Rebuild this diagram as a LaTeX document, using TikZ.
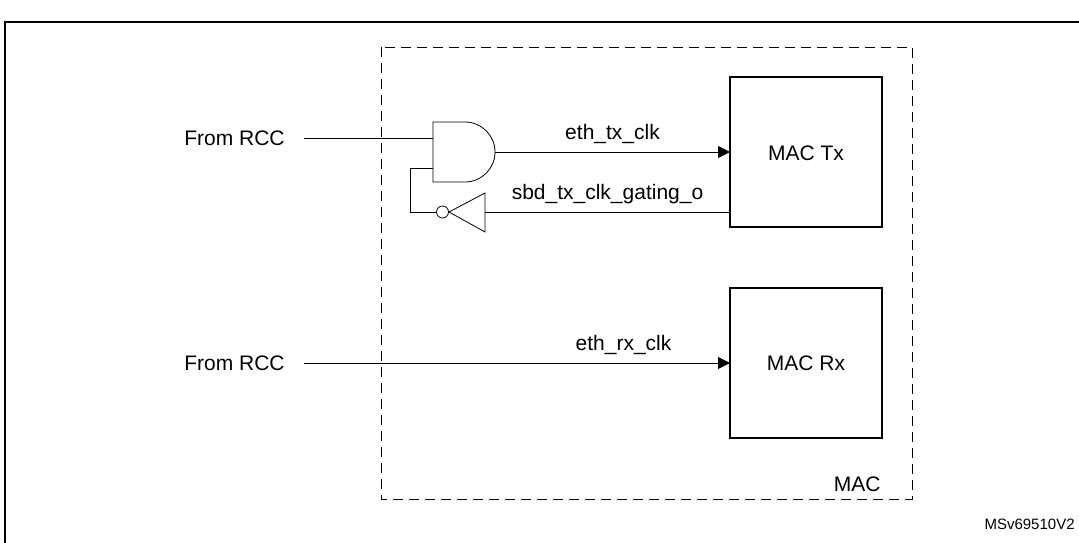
\documentclass[tikz,border=0pt]{standalone}
\usepackage{fontspec}
\setmainfont{Liberation Sans}
\usetikzlibrary{arrows.meta}
\begin{document}
\begin{tikzpicture}[x=0.5pt,y=-0.5pt,
    every node/.style = {font=\fontsize{10.5}{12}\selectfont, inner sep=1pt},
    blk/.style = {draw, thick},
    sig/.style = {draw, -{Triangle[length=6pt,width=6pt]}}]
  \useasboundingbox (0,0) rectangle (1079,542);
  \draw[thick] (5,560) -- (5,22) -- (1090,22);
  \draw[dash pattern=on 5pt off 3pt] (381,47) rectangle (912,499);
  \node[anchor=base east] (mac) at (883,491) {MAC};
  % blocks
  \draw[blk] (730,77) rectangle (882,227);
  \node (tx) at (806,153) {MAC Tx};
  \draw[blk] (730,288) rectangle (882,438);
  \node (rx) at (806,363) {MAC Rx};
  \coordinate (txin) at (730,152);
  \coordinate (txout) at (730,212);
  \coordinate (rxin) at (730,363);
  % and gate
  \draw (433,122) -- (465,122) arc[start angle=-90,end angle=90,radius=30] -- (433,182) -- cycle;
  \coordinate (ina) at (433,138);
  \coordinate (inb) at (433,168);
  \coordinate (andout) at (495,152);
  % inverter
  \draw (485,193) -- (485,232) -- (449,212) -- cycle;
  \draw (442.5,212) circle[radius=6];
  \coordinate (invin) at (485,212);
  \coordinate (invout) at (436.5,212);
  % inputs
  \node[anchor=east] (rcca) at (287,138) {From RCC};
  \node[anchor=east] (rccb) at (287,363) {From RCC};
  \draw (rcca.east) ++(17,0) -- (ina);
  \draw[sig] (rccb.east) ++(17,0) -- (rxin) node[above=3pt, pos=0.75] {eth\_rx\_clk};
  \draw[sig] (andout) -- (txin) node[midway, above=3pt] {eth\_tx\_clk};
  \draw (txout) -- (invin) node[midway, above=3pt] {sbd\_tx\_clk\_gating\_o};
  \draw (invout) -| (410,168) -- (inb);
  \node[anchor=base east, font=\fontsize{7.5}{9}\selectfont] (ref) at (1077,529) {MSv69510V2};
\end{tikzpicture}
\end{document}
